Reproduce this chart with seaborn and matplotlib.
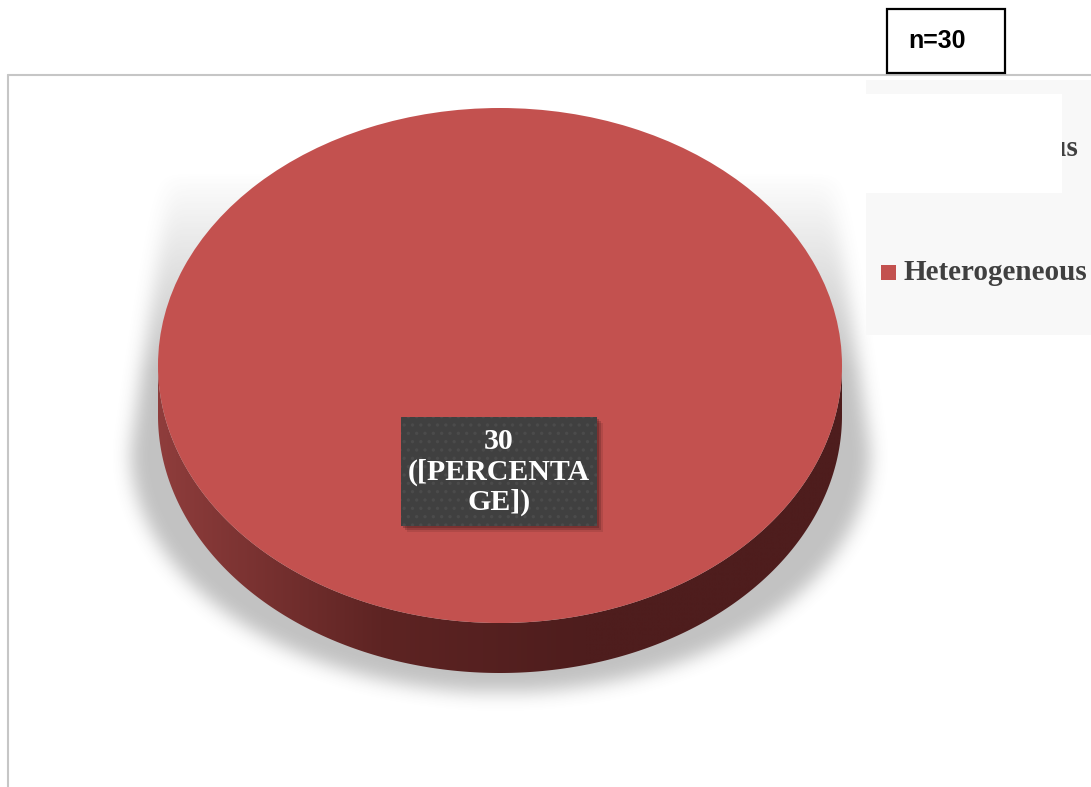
import numpy as np
import matplotlib
matplotlib.use("Agg")
import matplotlib.pyplot as plt
from matplotlib.patches import Rectangle, Polygon
from matplotlib.colors import to_rgb
import seaborn as sns

# ---- data ----
categories = ["Homogeneous", "Heterogeneous"]
values = [0, 30]
sample_label = "n=30"

sns.set_theme(style="white")
plt.rcParams["font.family"] = ["Liberation Serif", "DejaVu Serif"]
palette = sns.color_palette(["#4f81bd", "#c3514f"])

W, H = 1091, 787
fig = plt.figure(figsize=(W / 100, H / 100), dpi=100)
fig.patch.set_facecolor("white")

# pie geometry (pixels): top face centre, radii and rim depth
CX, CY, RX, RY, DEPTH = 500.0, 365.5, 342.0, 257.5, 50.0


def fx(px):
    return px / W


def fy(py):
    return 1 - py / H


ax = fig.add_axes([0, 0, 1, 1])
xlim = ((0 - CX) / RX, (W - CX) / RX)
ylim = ((CY - H) / RY, CY / RY)

# ---- soft drop shadow under the pie ----
yy, xx = np.mgrid[0:H, 0:W].astype(float)
half = np.where(
    yy < 450,
    np.interp(yy, [170, 450], [330, 370]),
    370 * np.sqrt(np.clip(1 - ((yy - 450) / 242.0) ** 2, 0, 1)),
)
mask = ((np.abs(xx - CX) < half) & (yy > 170)).astype(float)


def box_blur(a, r, axis):
    pad = [(r + 1, r) if i == axis else (0, 0) for i in range(2)]
    c = np.cumsum(np.pad(a, pad, mode="edge"), axis=axis)
    n = a.shape[axis]
    hi = np.take(c, np.arange(2 * r + 1, 2 * r + 1 + n), axis=axis)
    lo = np.take(c, np.arange(0, n), axis=axis)
    return (hi - lo) / (2 * r + 1)


for _ in range(3):
    mask = box_blur(mask, 8, 0)
    mask = box_blur(mask, 8, 1)
fade = np.clip((yy - 170) / 200.0, 0, 1)
shadow = np.zeros((H, W, 4))
shadow[..., :3] = 0.33
shadow[..., 3] = mask * fade * 0.36
ax.imshow(shadow, extent=(xlim[0], xlim[1], ylim[0], ylim[1]), origin="upper",
          aspect="auto", zorder=0, interpolation="bilinear")

# ---- top face from the data ----
wedges, _ = ax.pie(values, colors=palette, startangle=90, counterclock=False,
                   radius=1, center=(0, 0), frame=True,
                   wedgeprops=dict(linewidth=0, antialiased=True))
for w in wedges:
    w.set_zorder(3)

# ---- rim: gradient-filled band along the front of every slice ----
d = DEPTH / RY
stops_x = [-1.0, -0.35, 0.25, 1.0]
stops_c = [to_rgb("#8f3d3c"), to_rgb("#5e2423"), to_rgb("#4e1d1d"), to_rgb("#4e1d1d")]
gx = np.linspace(-1, 1, 800)
grad = np.stack([np.interp(gx, stops_x, [c[k] for c in stops_c]) for k in range(3)], axis=-1)[None, :, :]

for w in wedges:
    t1, t2 = sorted((w.theta1, w.theta2))
    if t2 - t1 <= 0:
        continue
    ts = np.linspace(t1, t2, 1441)
    front = (np.mod(ts, 360) >= 180) | np.isclose(np.mod(ts, 360), 0)
    idx = np.flatnonzero(front)
    if idx.size < 2:
        continue
    runs = np.split(idx, np.flatnonzero(np.diff(idx) > 1) + 1)
    for run in runs:
        if run.size < 2:
            continue
        r = np.radians(ts[run])
        top = np.column_stack([np.cos(r), np.sin(r)])
        bot = np.column_stack([np.cos(r[::-1]), np.sin(r[::-1]) - d])
        band = Polygon(np.vstack([top, bot]), closed=True, facecolor="none",
                       edgecolor="none", transform=ax.transData)
        ax.add_patch(band)
        im = ax.imshow(grad, extent=(-1, 1, -1 - d, 0.05), aspect="auto",
                       origin="upper", zorder=2, interpolation="bilinear")
        im.set_clip_path(band)

ax.set_xlim(*xlim)
ax.set_ylim(*ylim)
ax.set_aspect("auto")
ax.axis("off")

# ---- chart frame ----
frame_col = "#c6c6c6"
fig.add_artist(plt.Line2D([fx(8), fx(W)], [fy(75), fy(75)], color=frame_col, lw=1.5))
fig.add_artist(plt.Line2D([fx(8), fx(8)], [fy(75), fy(H)], color=frame_col, lw=1.5))

# ---- data label ----
bx0, by0, bx1, by1 = 401, 417, 597, 526
for off, a in [(6, 0.12), (4, 0.2), (2, 0.25)]:
    fig.add_artist(Rectangle((fx(bx0 + off), fy(by1 + off)), (bx1 - bx0) / W, (by1 - by0) / H,
                             transform=fig.transFigure, facecolor="#2a1010", alpha=a,
                             linewidth=0, zorder=5))
plt.rcParams["hatch.linewidth"] = 1.2
fig.add_artist(Rectangle((fx(bx0), fy(by1)), (bx1 - bx0) / W, (by1 - by0) / H,
                         transform=fig.transFigure, facecolor="#404040",
                         edgecolor="#4b4b4b", hatch="..", linewidth=0, zorder=6))
fig.text(fx(499), fy(472), f"{values[1]}\n([PERCENTA\nGE])", ha="center", va="center",
         fontsize=21.5, fontweight="bold", color="white", linespacing=1.13, zorder=7)

# ---- legend ----
fig.add_artist(Rectangle((fx(866), fy(335)), (W - 866) / W, (335 - 80) / H,
                         transform=fig.transFigure, facecolor="#f8f8f8", linewidth=0, zorder=4))
legend_y = [148, 273]
for cat, col, ly in zip(categories, palette, legend_y):
    fig.add_artist(Rectangle((fx(881), fy(ly + 7)), 15 / W, 15 / H, transform=fig.transFigure,
                             facecolor=col, linewidth=0, zorder=5))
    fig.text(fx(903), fy(ly), cat, ha="left", va="center", fontsize=21,
             fontweight="bold", color="#404040", zorder=5)
fig.add_artist(Rectangle((fx(866), fy(193)), (1062 - 866) / W, (193 - 94) / H,
                         transform=fig.transFigure, facecolor="white", linewidth=0, zorder=8))

# ---- sample size box ----
fig.add_artist(Rectangle((fx(887), fy(73)), (1005 - 887) / W, (73 - 9) / H,
                         transform=fig.transFigure, facecolor="white", edgecolor="black",
                         linewidth=1.6, zorder=8))
fig.text(fx(908), fy(41), sample_label, ha="left", va="center", fontsize=18,
         fontweight="bold", color="black", family=["Liberation Sans", "DejaVu Sans"], zorder=9)

fig.savefig("out.png", dpi=100)
